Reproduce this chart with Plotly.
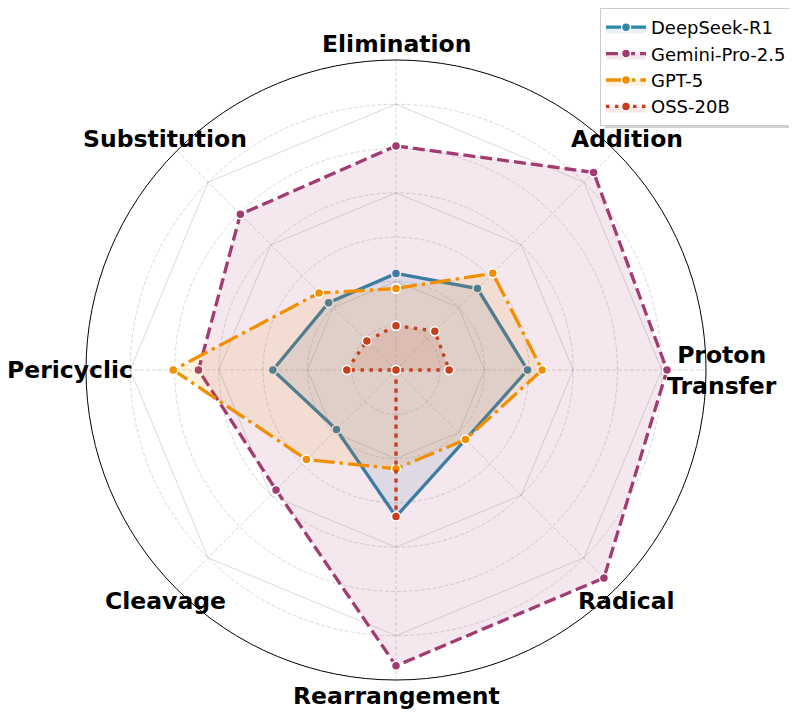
import math
import plotly.graph_objects as go

categories = ["Elimination", "Addition", "Proton Transfer", "Radical",
              "Rearrangement", "Cleavage", "Pericyclic", "Substitution"]
label_text = ["Elimination", "Addition", "Proton<br>Transfer", "Radical",
              "Rearrangement", "Cleavage", "Pericyclic", "Substitution"]

models = ["DeepSeek-R1", "Gemini-Pro-2.5", "GPT-5", "OSS-20B"]
deepseek_r1 = [21.8, 26.0, 29.7, 22.2, 33.1, 19.0, 27.8, 21.5]
gemini_pro_25 = [50.6, 63.1, 61.2, 66.4, 66.8, 38.3, 44.6, 49.7]
gpt_5 = [18.4, 30.9, 33.0, 22.2, 22.3, 28.6, 50.3, 24.6]
oss_20b = [10.0, 12.4, 12.0, 0.0, 33.1, 0.0, 11.1, 9.3]

series = [deepseek_r1, gemini_pro_25, gpt_5, oss_20b]
colors = ["#2E86AB", "#A23B72", "#F18F01", "#C73E1D"]
fills = ["rgba(46,134,171,0.12)", "rgba(162,59,114,0.12)",
         "rgba(241,143,1,0.12)", "rgba(199,62,29,0.12)"]
dashes = ["solid", "12px,5px", "21px,5px,3.4px,5px", "3.4px,5.6px"]

circle_levels = [10, 20, 30, 40, 50, 60]
octagon_levels = [20, 40, 60]
r_max = 70

W, H = 797, 714
page_off = 8                      # browser body margin
cx, cy, R = 396 - page_off, 370 - page_off, 310
label_px = 326

fig = go.Figure()

for lv in octagon_levels:
    fig.add_trace(go.Scatterpolar(
        r=[lv] * (len(categories) + 1), theta=categories + categories[:1],
        mode="lines", line=dict(color="rgba(150,150,150,0.35)", width=1),
        showlegend=False, hoverinfo="skip"))

for name, vals, c, fc, d in zip(models, series, colors, fills, dashes):
    fig.add_trace(go.Scatterpolar(
        r=vals + vals[:1], theta=categories + categories[:1],
        mode="lines+markers", name=name,
        line=dict(color=c, width=3.3, dash=d),
        marker=dict(size=9, color=c, line=dict(color="white", width=1.5)),
        fill="toself", fillcolor=fc))

annotations = []
n = len(categories)
for i, txt in enumerate(label_text):
    ang = 2 * math.pi * i / n
    px = cx + label_px * math.sin(ang)
    py = cy - label_px * math.cos(ang)
    annotations.append(dict(
        x=px / W, y=1 - py / H, xref="paper", yref="paper",
        text=txt, showarrow=False, xanchor="center", yanchor="middle",
        font=dict(family="DejaVu Sans", size=23.5, color="black", weight="bold")))

# legend placement (page pixels) and a soft shadow behind it
leg_right = 792 - page_off
sh_x0, sh_x1 = 605 - page_off, 795 - page_off
sh_y0, sh_y1 = 14 - page_off, 128 - page_off
shapes = [dict(type="rect", xref="paper", yref="paper",
               x0=sh_x0 / W, x1=sh_x1 / W,
               y0=1 - sh_y1 / H, y1=1 - sh_y0 / H,
               fillcolor="rgba(0,0,0,0.18)", line=dict(width=0), layer="above")]

fig.update_layout(
    width=W, height=H,
    margin=dict(l=0, r=0, t=0, b=0),
    paper_bgcolor="white",
    font=dict(family="DejaVu Sans", size=18, color="black"),
    annotations=annotations,
    shapes=shapes,
    polar=dict(
        domain=dict(x=[(cx - R) / W, (cx + R) / W],
                    y=[(H - cy - R) / H, (H - cy + R) / H]),
        bgcolor="white",
        radialaxis=dict(range=[0, r_max], tickvals=circle_levels,
                        showticklabels=False, ticks="", showline=False,
                        gridcolor="rgba(170,170,170,0.45)", griddash="4px,2px",
                        gridwidth=0.8),
        angularaxis=dict(categoryorder="array", categoryarray=categories,
                         rotation=90, direction="clockwise",
                         showticklabels=False, ticks="",
                         showline=True, linecolor="black", linewidth=1,
                         gridcolor="rgba(170,170,170,0.45)", griddash="4px,2px",
                         gridwidth=0.8),
    ),
    legend=dict(x=leg_right / W, y=1, xanchor="right", yanchor="top",
                bgcolor="white", bordercolor="#cccccc", borderwidth=1,
                itemwidth=40,
                font=dict(family="DejaVu Sans", size=18)),
)

fig.write_html("out.html")
